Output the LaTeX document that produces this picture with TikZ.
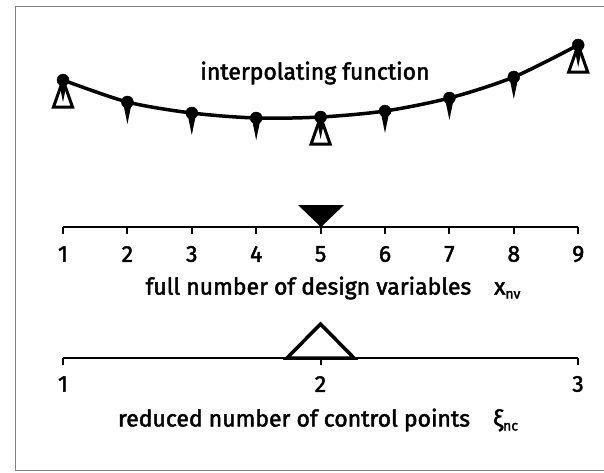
\documentclass[tikz,border=0pt]{standalone}
\usepackage{fontspec}
\setmainfont{Fira Sans}[FakeBold=2]
\begin{document}
\begin{tikzpicture}[x=1pt,y=-1pt,font=\fontsize{23}{27}\selectfont]
\useasboundingbox (0,0) rectangle (604,472);
\draw[gray, line width=0.8pt] (604,6) -- (15,6) -- (15,470) -- (604,470);

% interpolating function
\foreach \i/\y in {1/80,2/102,3/113,4/118,5/117,6/111,7/98,8/77,9/45}
  \coordinate (p\i) at ({63+(\i-1)*64.4},\y);
\draw[line width=3.5pt] plot[smooth] coordinates {(p1) (p2) (p3) (p4) (p5) (p6) (p7) (p8) (p9)};
\foreach \i in {1,...,9}{
  \filldraw[black] (p\i) circle (6pt);
  \fill (p\i) ++(-4.5,0) -- ++(9,0) -- ++(-4.5,22) -- cycle;
}
\foreach \i in {1,5,9}
  \draw[line width=3pt] (p\i) -- ++(-9.5,27) -- ++(19,0) -- cycle;
\node (title) at (315,73) {interpolating function};

% full number of design variables
\draw[line width=2pt] (63,227) coordinate (a1) -- (578,227) coordinate (a9);
\foreach \i in {1,...,9}{
  \draw[line width=2pt] ({63+(\i-1)*64.4},227) -- ++(0,7);
  \node (n\i) at ({63+(\i-1)*64.4},254) {\i};
}
\fill (321,227) -- (298,205) -- (344,205) -- cycle;
\node (xlabel) at (333,288) {full number of design variables\quad x\raisebox{-4pt}{\fontsize{14}{14}\selectfont nv}};

% reduced number of control points
\draw[line width=2pt] (63,358) coordinate (b1) -- (578,358) coordinate (b3);
\foreach \i/\x in {1/63,2/320.5,3/578}{
  \draw[line width=2pt] (\x,358) -- ++(0,7);
  \node (m\i) at (\x,384) {\i};
}
\draw[line width=3.5pt] (287,358) -- (320.5,324) -- (354,358) -- cycle;
\node (xilabel) at (318,420) {reduced number of control points\quad ξ\raisebox{-4pt}{\fontsize{14}{14}\selectfont nc}};
\end{tikzpicture}
\end{document}
